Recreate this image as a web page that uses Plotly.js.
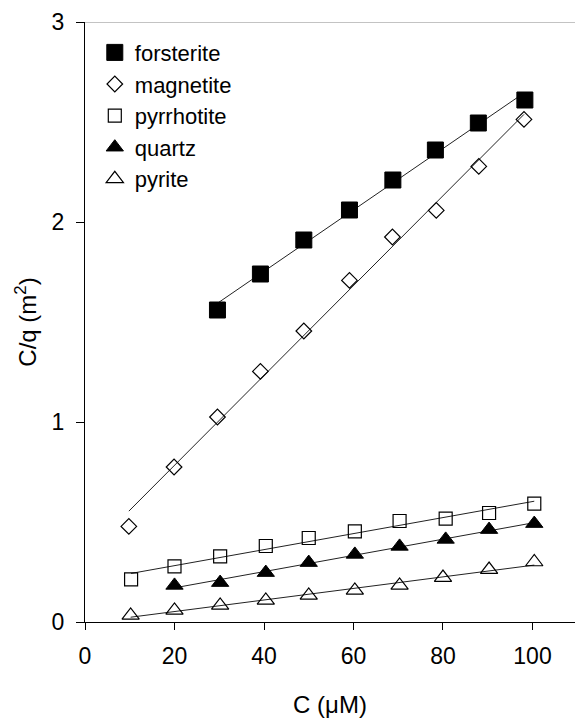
<!DOCTYPE html>
<html><head><meta charset="utf-8">
<script src="https://cdn.plot.ly/plotly-3.0.1.min.js"></script>
<style>html,body{margin:0;padding:0;background:#fff}</style>
</head><body><div id="chart" style="width:575px;height:718px"></div>
<script>
const seriesNames = ['forsterite', 'magnetite', 'pyrrhotite', 'quartz', 'pyrite'];
const forsteriteC  = [29.6, 39.2, 48.9, 59.1, 68.8, 78.3, 87.9, 98.3];
const forsteriteCq = [1.56, 1.74, 1.91, 2.06, 2.21, 2.36, 2.495, 2.61];
const magnetiteC   = [9.8, 19.9, 29.6, 39.2, 48.9, 59.1, 68.7, 78.5, 88.0, 98.1];
const magnetiteCq  = [0.478, 0.775, 1.025, 1.253, 1.455, 1.708, 1.925, 2.058, 2.278, 2.513];
const pyrrhotiteC  = [10.3, 20.0, 30.2, 40.4, 50.0, 60.3, 70.3, 80.6, 90.3, 100.4];
const pyrrhotiteCq = [0.213, 0.278, 0.328, 0.38, 0.42, 0.453, 0.505, 0.517, 0.545, 0.592];
const quartzC      = [20.0, 30.2, 40.4, 50.0, 60.3, 70.3, 80.6, 90.3, 100.4];
const quartzCq     = [0.183, 0.197, 0.247, 0.297, 0.338, 0.378, 0.413, 0.462, 0.492];
const pyriteC      = [10.2, 20.0, 30.2, 40.4, 50.0, 60.3, 70.3, 80.0, 90.3, 100.4];
const pyriteCq     = [0.033, 0.058, 0.083, 0.108, 0.133, 0.158, 0.183, 0.222, 0.262, 0.30];
const xTicks = [0, 20, 40, 60, 80, 100];
const yTicks = [0, 1, 2, 3];

const xs = [forsteriteC, magnetiteC, pyrrhotiteC, quartzC, pyriteC];
const ys = [forsteriteCq, magnetiteCq, pyrrhotiteCq, quartzCq, pyriteCq];
const markerStyles = [
  {symbol: 'square', size: 16, color: '#000', line: {color: '#000', width: 1}},
  {symbol: 'diamond-open', size: 12, color: '#000', line: {color: '#000', width: 1.2}},
  {symbol: 'square-open', size: 13, color: '#000', line: {color: '#000', width: 1.2}},
  {symbol: 'triangle-up', size: 15, color: '#000', line: {color: '#000', width: 1}},
  {symbol: 'triangle-up-open', size: 15, color: '#000', line: {color: '#000', width: 1.2}}
];

function fitLine(x, y) {
  const n = x.length;
  const mx = x.reduce((a, b) => a + b, 0) / n;
  const my = y.reduce((a, b) => a + b, 0) / n;
  let sxy = 0, sxx = 0;
  for (let i = 0; i < n; i++) { sxy += (x[i] - mx) * (y[i] - my); sxx += (x[i] - mx) ** 2; }
  const b = sxy / sxx, a = my - b * mx;
  const x0 = Math.min(...x), x1 = Math.max(...x);
  return {x: [x0, x1], y: [a + b * x0, a + b * x1]};
}

const traces = [];
for (let i = 0; i < xs.length; i++) {
  const f = fitLine(xs[i], ys[i]);
  traces.push({x: f.x, y: f.y, mode: 'lines', type: 'scatter', showlegend: false,
    hoverinfo: 'skip', line: {color: '#222', width: 1}});
}
for (let i = 0; i < xs.length; i++) {
  traces.push({x: xs[i], y: ys[i], mode: 'markers', type: 'scatter', name: seriesNames[i],
    marker: markerStyles[i], cliponaxis: false});
}

const font = 'Liberation Sans, Arial, sans-serif';
const layout = {
  width: 575, height: 718,
  margin: {l: 85, r: 0, t: 22, b: 96, pad: 0},
  paper_bgcolor: '#fff', plot_bgcolor: '#fff',
  font: {family: font, color: '#000', size: 22},
  showlegend: true,
  legend: {x: 0.02, y: 0.984, xanchor: 'left', yanchor: 'top', bgcolor: 'rgba(0,0,0,0)',
    font: {family: font, size: 22, color: '#000'}, itemwidth: 30, tracegroupgap: 0},
  xaxis: {range: [0, 109.5], tickvals: xTicks, ticktext: xTicks.map(String), ticks: 'outside', ticklen: 7,
    tickwidth: 1, tickcolor: '#000', showline: true, linecolor: '#000', linewidth: 1,
    showgrid: false, zeroline: false, tickfont: {family: font, size: 23, color: '#000'},
    ticklabelstandoff: 6,
    title: {text: 'C (μM)', font: {family: font, size: 24, color: '#000'}, standoff: 28}},
  yaxis: {range: [0, 3], tickvals: yTicks, ticktext: yTicks.map(String), ticks: 'outside', ticklen: 8,
    tickwidth: 1, tickcolor: '#000', showline: true, linecolor: '#000', linewidth: 1,
    showgrid: false, zeroline: false, tickfont: {family: font, size: 23, color: '#000'},
    ticklabelstandoff: 7,
    title: {text: 'C/q (m<sup>2</sup>)', font: {family: font, size: 24, color: '#000'}, standoff: 8}},
  shapes: [{type: 'line', xref: 'paper', yref: 'y', x0: 0, x1: 1, y0: 3, y1: 3,
    line: {color: '#888', width: 1}}]
};
Plotly.newPlot('chart', traces, layout, {displayModeBar: false, staticPlot: true});
</script></body></html>
